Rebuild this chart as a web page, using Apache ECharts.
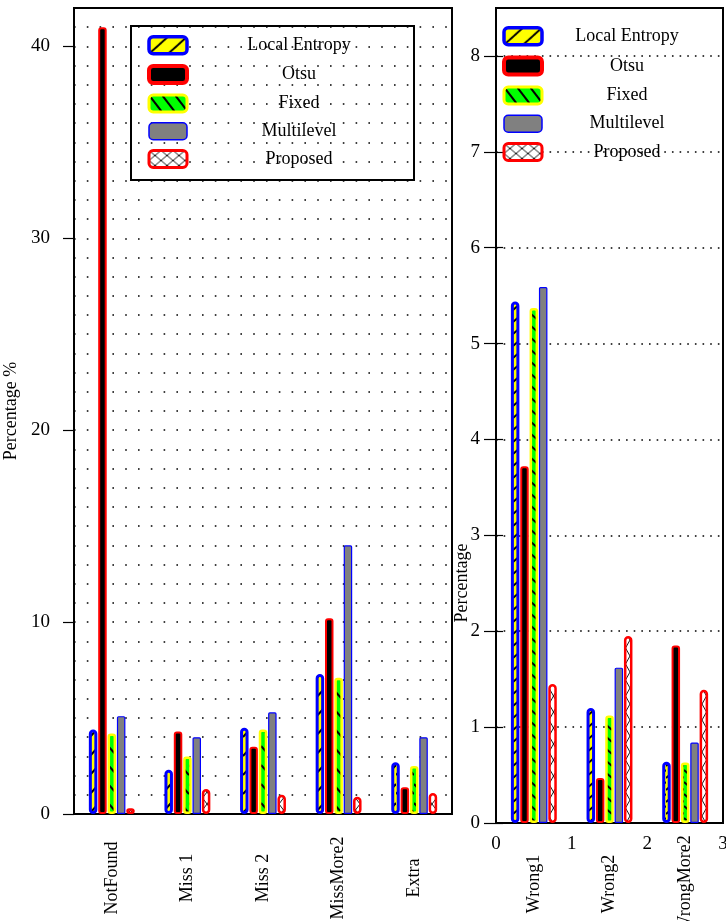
<!DOCTYPE html>
<html><head><meta charset="utf-8">
<script src="https://cdn.jsdelivr.net/npm/echarts@6/dist/echarts.min.js"></script>
<style>html,body{margin:0;padding:0;background:#fff}#c{width:726px;height:921px}</style>
</head><body><div id="c"></div>
<script>
const seriesNames = ['Local Entropy', 'Otsu', 'Fixed', 'Multilevel', 'Proposed'];
const leftCategories = ['NotFound', 'Miss 1', 'Miss 2', 'MissMore2', 'Extra'];
const leftLocalEntropy = [4.4, 2.3, 4.5, 7.3, 2.7];
const leftOtsu = [41.0, 4.3, 3.5, 10.2, 1.4];
const leftFixed = [4.2, 3.0, 4.4, 7.1, 2.5];
const leftMultilevel = [5.1, 4.0, 5.3, 14.0, 4.0];
const leftProposed = [0.3, 1.3, 1.0, 0.9, 1.1];
const rightCategories = ['Wrong1', 'Wrong2', 'WrongMore2'];
const rightLocalEntropy = [5.44, 1.2, 0.64];
const rightOtsu = [3.72, 0.47, 1.85];
const rightFixed = [5.37, 1.12, 0.63];
const rightMultilevel = [5.59, 1.62, 0.84];
const rightProposed = [1.45, 1.95, 1.39];
const leftYTicks = [0, 10, 20, 30, 40];
const rightYTicks = [0, 1, 2, 3, 4, 5, 6, 7, 8];
const rightXTicks = [0, 1, 2, 3];

const FONT = '"Liberation Serif", "DejaVu Serif", serif';

function pattern(w, h, bg, draw, lw) {
  const c = document.createElement('canvas');
  c.width = w; c.height = h;
  const g = c.getContext('2d');
  g.fillStyle = bg; g.fillRect(0, 0, w, h);
  g.strokeStyle = '#000'; g.lineWidth = lw || 1.6;
  g.beginPath(); draw(g, w, h); g.stroke();
  return { image: c, repeat: 'repeat' };
}
const slash = (a, b, c, d) => (g) => { g.moveTo(a, b); g.lineTo(c, d); };
const crossDraw = (g, w, h) => { g.moveTo(0, 0); g.lineTo(w, h); g.moveTo(w, 0); g.lineTo(0, h); };

const leftPats = {
  'Local Entropy': pattern(9, 19, '#ffff00', slash(0, 15, 9, 5), 2),
  'Fixed': pattern(9, 19, '#00ff00', slash(0, 5, 9, 15), 2),
  'Proposed': pattern(9, 12, '#ffffff', crossDraw, 0.9)
};
const rightPats = {
  'Local Entropy': pattern(9, 12, '#ffff00', slash(0, 10, 9, 2), 2),
  'Fixed': pattern(9, 12, '#00ff00', slash(0, 2, 9, 10), 2),
  'Proposed': pattern(9, 16, '#ffffff', crossDraw, 0.9)
};
const legendPats = {
  'Local Entropy': pattern(19, 17, '#ffff00', slash(0, 17, 19, 0), 2),
  'Fixed': pattern(13, 17, '#00ff00', slash(0, 0, 13, 17), 2),
  'Proposed': pattern(12, 10, '#ffffff', crossDraw, 0.9)
};

const baseStyle = {
  'Local Entropy': { borderColor: '#0000ff', borderWidth: 3, borderRadius: 3 },
  'Otsu': { color: '#000000', borderColor: '#ff0000', borderWidth: 2, borderRadius: 2 },
  'Fixed': { borderColor: '#ffff00', borderWidth: 2.5, borderRadius: 2 },
  'Multilevel': { color: '#808080', borderColor: '#0000ff', borderWidth: 1.2, borderRadius: 1 },
  'Proposed': { borderColor: '#ff0000', borderWidth: 2.5, borderRadius: 3 }
};
const legendBorder = { 'Local Entropy': 3.5, 'Otsu': 4, 'Fixed': 3, 'Multilevel': 1.5, 'Proposed': 3 };

function styleFor(name, pats) {
  const s = Object.assign({}, baseStyle[name]);
  if (pats[name]) s.color = pats[name];
  return s;
}

const leftData = [leftLocalEntropy, leftOtsu, leftFixed, leftMultilevel, leftProposed];
const rightData = [rightLocalEntropy, rightOtsu, rightFixed, rightMultilevel, rightProposed];

const series = [];
seriesNames.forEach((n, i) => {
  series.push({
    name: n, type: 'bar', xAxisIndex: 0, yAxisIndex: 0, data: leftData[i],
    barWidth: 8.5, barGap: '10%', itemStyle: styleFor(n, leftPats), emphasis: { disabled: true }, z: 3
  });
});
seriesNames.forEach((n, i) => {
  series.push({
    name: n, type: 'bar', xAxisIndex: 1, yAxisIndex: 2, data: rightData[i],
    barWidth: 8.5, barGap: '10%', itemStyle: styleFor(n, rightPats), emphasis: { disabled: true }, z: 3
  });
});

function legendData() {
  return seriesNames.map(n => ({
    name: n, icon: 'roundRect',
    itemStyle: {
      color: legendPats[n] || baseStyle[n].color,
      borderColor: baseStyle[n].borderColor,
      borderWidth: legendBorder[n]
    }
  }));
}

const black = { color: '#000', width: 2 };
const labelBase = { color: '#000', fontFamily: FONT };

const option = {
  animation: false,
  backgroundColor: '#fff',
  grid: [
    { left: 74, top: 8, width: 378, height: 806, show: true, borderColor: '#000', borderWidth: 2, backgroundColor: 'transparent', outerBoundsMode: 'none', containLabel: false },
    { left: 496, top: 8, width: 227, height: 815, show: true, borderColor: '#000', borderWidth: 2, backgroundColor: 'transparent', outerBoundsMode: 'none', containLabel: false }
  ],
  legend: [
    {
      data: legendData(), orient: 'vertical', left: 131, top: 26,
      padding: [9, 8, 11, 16], borderColor: '#000', borderWidth: 2, borderRadius: 0,
      itemWidth: 38, itemHeight: 17, itemGap: 8.5, selectedMode: false,
      formatter: '{t|{name}}',
      textStyle: { rich: { t: Object.assign({ width: 214, align: 'center', fontSize: 18, lineHeight: 18 }, labelBase) } }
    },
    {
      data: legendData(), orient: 'vertical', left: 502, top: 26,
      padding: 0, itemWidth: 38, itemHeight: 17, itemGap: 9, selectedMode: false,
      formatter: '{t|{name}}',
      textStyle: { rich: { t: Object.assign({ width: 160, align: 'center', fontSize: 18, lineHeight: 18 }, labelBase) } }
    }
  ],
  xAxis: [
    {
      gridIndex: 0, type: 'category', data: leftCategories, position: 'bottom',
      axisLine: { lineStyle: black }, axisTick: { show: false },
      axisLabel: Object.assign({ rotate: 90, align: 'center', verticalAlign: 'middle', margin: 64, fontSize: 18, interval: 0 }, labelBase),
      splitLine: { show: false }
    },
    {
      gridIndex: 1, type: 'category', data: rightCategories, position: 'bottom',
      axisLine: { lineStyle: black }, axisTick: { show: false },
      axisLabel: Object.assign({ rotate: 90, align: 'center', verticalAlign: 'middle', margin: 61, fontSize: 18, interval: 0 }, labelBase),
      splitLine: { show: false }
    },
    {
      gridIndex: 1, type: 'value', position: 'bottom', min: 0, max: 3, interval: 1,
      axisLine: { show: false }, axisTick: { show: false }, splitLine: { show: false },
      axisLabel: Object.assign({ margin: 12, fontSize: 19, customValues: rightXTicks }, labelBase)
    }
  ],
  yAxis: [
    {
      gridIndex: 0, type: 'value', min: 0, max: 42, position: 'left',
      axisLine: { show: true, lineStyle: black },
      axisTick: { show: true, length: 11, customValues: leftYTicks, lineStyle: { color: '#000', width: 1.2 } },
      axisLabel: Object.assign({ margin: 24, fontSize: 19, customValues: leftYTicks }, labelBase),
      splitLine: { show: false },
      name: 'Percentage %', nameLocation: 'middle', nameGap: 41,
      nameTextStyle: Object.assign({ fontSize: 18 }, labelBase)
    },
    {
      gridIndex: 0, type: 'value', min: 0, max: 42, interval: 1, position: 'left',
      axisLine: { show: false }, axisTick: { show: false }, axisLabel: { show: false },
      splitLine: { show: true, lineStyle: { color: '#000', width: 1.6, type: [1.6, 11.2] } }
    },
    {
      gridIndex: 1, type: 'value', min: 0, max: 8.5, interval: 1, position: 'left',
      axisLine: { show: true, lineStyle: black },
      axisTick: { show: true, length: 12, customValues: rightYTicks, lineStyle: { color: '#000', width: 1.2 } },
      axisLabel: Object.assign({ margin: 16, fontSize: 19, customValues: rightYTicks }, labelBase),
      splitLine: { show: true, lineStyle: { color: '#000', width: 1.6, type: [1.6, 6.05] } }
    },
    {
      gridIndex: 1, type: 'value', min: 0, max: 8.5, interval: 1, position: 'left',
      axisLine: { show: false },
      axisTick: { show: true, inside: true, length: 7, customValues: rightYTicks, lineStyle: { color: '#000', width: 1.2 } },
      axisLabel: { show: false }, splitLine: { show: false }
    }
  ],
  graphic: [
    {
      type: 'text', x: 462, y: 583, rotation: Math.PI / 2,
      style: { text: 'Percentage', fontSize: 18, fontFamily: FONT, fill: '#000', align: 'center', verticalAlign: 'middle' }
    }
  ],
  series: series
};

const chart = echarts.init(document.getElementById('c'), null, { renderer: 'canvas' });
chart.setOption(option);
</script>
</body></html>
